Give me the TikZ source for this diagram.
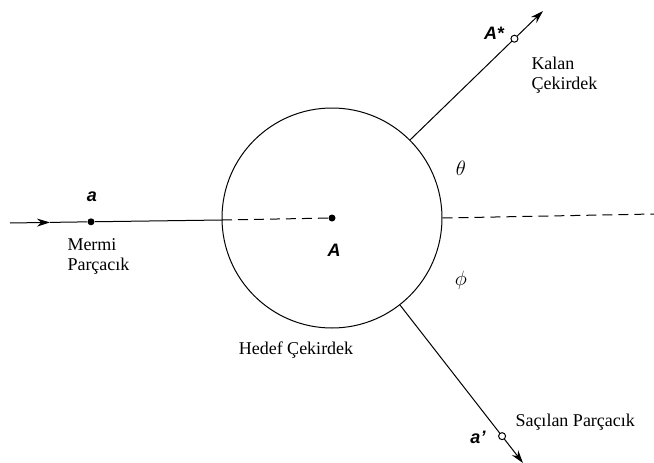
\documentclass[tikz,border=0pt]{standalone}
\usepackage{fontspec}
\setmainfont{Liberation Serif}
\newfontfamily\lbl{Liberation Sans}
\usetikzlibrary{arrows.meta,calc}
\begin{document}
\begin{tikzpicture}[x=1pt,y=-1pt, line width=1pt,
 tip/.style={-{Stealth[length=13pt,width=8pt]}},
 txt/.style={font=\fontsize{18}{20}\selectfont, inner sep=0pt, align=left},
 sym/.style={font=\lbl\bfseries\itshape\fontsize{18}{20}\selectfont, inner sep=0pt},
 ang/.style={font=\fontsize{21}{23}\selectfont, inner sep=0pt},
 dot/.style={circle, fill, inner sep=0pt, minimum size=7pt},
 odot/.style={circle, draw, fill=white, inner sep=0pt, minimum size=7pt, line width=1pt},
 dsh/.style={dash pattern=on 10pt off 6pt}]
\useasboundingbox (0,0) rectangle (654,463);
% target nucleus
\node[circle, draw, minimum size=220pt, inner sep=0pt] (T) at (332,218) {};
% incoming projectile
\coordinate (in0) at (10,223);
\coordinate (inm) at (50,222.4);
\coordinate (Tw) at (222,220);
\node[dot] (a) at (91,221.8) {};
\node[dot] (A) at (T.center) {};
\draw[tip] (in0) -- (inm);
\draw (inm) -- (a) -- (Tw);
\draw[dsh] (Tw) -- (A);
% reference direction
\coordinate (rr) at (654,214);
\draw[dsh] (T.east) -- (rr);
% residual nucleus
\coordinate (up) at (543,11);
\draw[tip] (T.45) -- (up);
\node[odot] (As) at ($(T.45)!0.785!(up)$) {};
% scattered particle
\coordinate (dn) at (523,463);
\draw[tip] (T.-52) -- (dn);
\node[odot] (ap) at ($(T.-52)!0.83!(dn)$) {};
% labels
\node[sym] (la) at (92,197) {a};
\node[sym] (lA) at (334,250) {A};
\node[sym] (lAs) at (494,33) {A*};
\node[sym] (lap) at (478,437) {a’};
\node[txt, anchor=north west] (kal) at (531,57) {Kalan\\Çekirdek};
\node[txt, anchor=north west] (mer) at (67,238) {Mermi\\Parçacık};
\node[txt] (hed) at (296,350) {Hedef Çekirdek};
\node[txt, anchor=west] (sac) at (515,422) {Saçılan Parçacık};
\node[ang] (th) at (461,168) {$\theta$};
\node[ang] (ph) at (461,280) {$\phi$};
\end{tikzpicture}
\end{document}
